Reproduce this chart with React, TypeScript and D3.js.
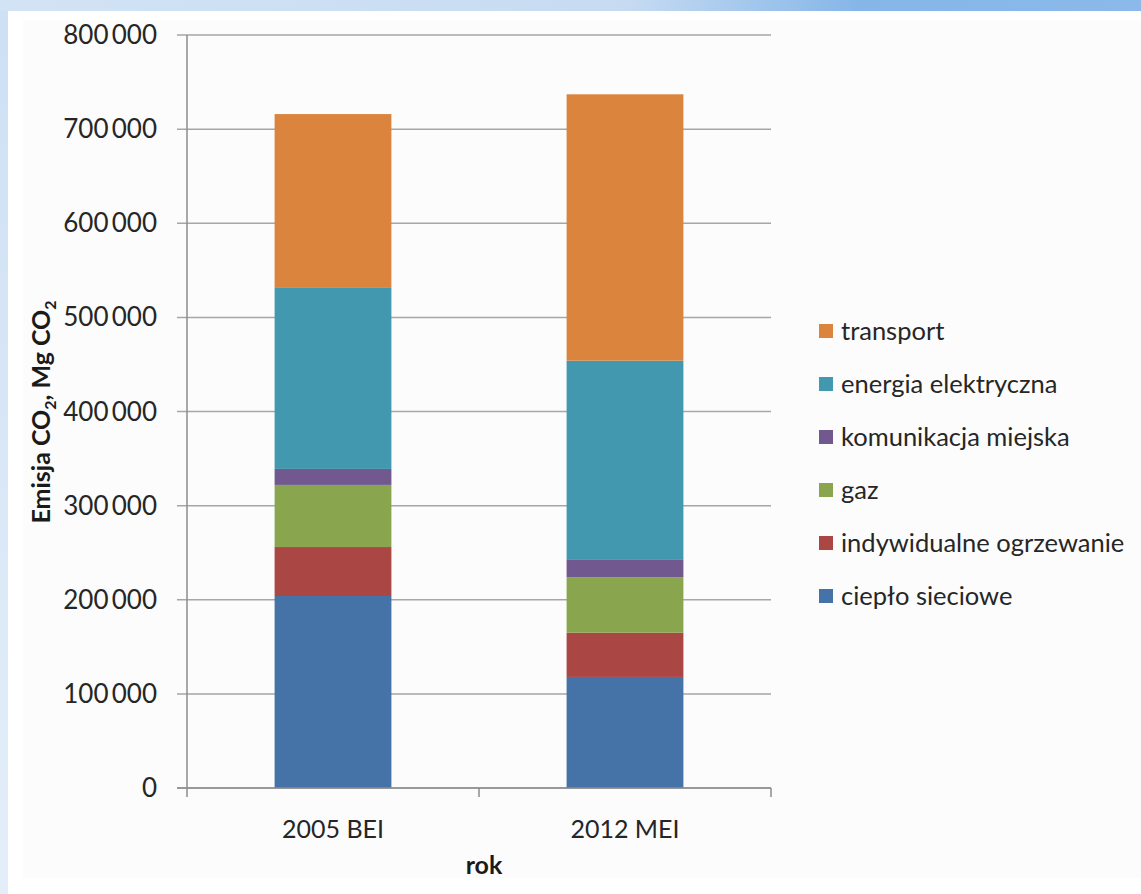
import * as d3 from "d3";
import { useEffect, useRef } from "react";

// kategorie (lata) i serie emisji CO2 [Mg CO2]
const categories = ["2005 BEI", "2012 MEI"];
const seriesNames = [
  "ciepło sieciowe",
  "indywidualne ogrzewanie",
  "gaz",
  "komunikacja miejska",
  "energia elektryczna",
  "transport",
];
const cieploSieciowe = [204000, 118000];
const indywidualneOgrzewanie = [52000, 47000];
const gaz = [66000, 59000];
const komunikacjaMiejska = [17000, 19000];
const energiaElektryczna = [193000, 211000];
const transport = [184000, 283000];
const yTicks = [0, 100000, 200000, 300000, 400000, 500000, 600000, 700000, 800000];
const colors = ["#4572A7", "#AA4643", "#89A54E", "#71588F", "#4198AF", "#DB843D"];

const W = 1141;
const H = 894;
const margin = { left: 187, right: 370, top: 35, bottom: 106 };
const FONT = "Lato, 'Open Sans', sans-serif";

export default function App() {
  const ref = useRef<SVGSVGElement>(null);

  useEffect(() => {
    const svg = d3.select(ref.current);
    svg.selectAll("*").remove();

    // tło slajdu
    const defs = svg.append("defs");
    const grad = defs.append("linearGradient").attr("id", "topbar");
    grad.append("stop").attr("offset", "0%").attr("stop-color", "#d2e3f5");
    grad.append("stop").attr("offset", "55%").attr("stop-color", "#c6dbf2");
    grad.append("stop").attr("offset", "75%").attr("stop-color", "#86b6e8");
    grad.append("stop").attr("offset", "100%").attr("stop-color", "#8ab9ea");
    const gradL = defs.append("linearGradient").attr("id", "leftbar").attr("x1", 0).attr("x2", 0).attr("y1", 0).attr("y2", 1);
    gradL.append("stop").attr("offset", "0%").attr("stop-color", "#cde0f4");
    gradL.append("stop").attr("offset", "100%").attr("stop-color", "#e4eef9");
    svg.append("rect").attr("width", W).attr("height", H).attr("fill", "url(#leftbar)");
    svg.append("rect").attr("width", W).attr("height", 11).attr("fill", "url(#topbar)");
    svg.append("rect").attr("x", 8).attr("y", 11).attr("width", W - 8).attr("height", H - 11).attr("fill", "#ffffff");
    svg.append("rect").attr("x", 23).attr("y", 20).attr("width", W - 23).attr("height", 858).attr("fill", "#fcfcfc");

    const width = W - margin.left - margin.right;
    const height = H - margin.top - margin.bottom;

    const g = svg.append("g").attr("transform", `translate(${margin.left}, ${margin.top})`);

    const y = d3.scaleLinear().domain([0, 800000]).range([height, 0]);
    const x = d3.scaleBand().domain(categories).range([0, width]).paddingInner(0.6).paddingOuter(0.3);

    const fmt = (v: number) => d3.format(",")(v).replace(/,/g, "\u2009");

    // linie siatki
    g.append("g")
      .selectAll("line")
      .data(yTicks)
      .enter()
      .append("line")
      .attr("x1", -10)
      .attr("x2", width)
      .attr("y1", (d) => y(d))
      .attr("y2", (d) => y(d))
      .attr("stroke", "#a6a6a6")
      .attr("stroke-width", 1.5);

    // etykiety osi Y
    g.append("g")
      .selectAll("text")
      .data(yTicks)
      .enter()
      .append("text")
      .attr("x", -30)
      .attr("y", (d) => y(d))
      .attr("dy", "0.35em")
      .attr("text-anchor", "end")
      .attr("font-family", FONT)
      .attr("font-size", 26)
      .attr("fill", "#262626")
      .text((d) => fmt(d));

    // słupki
    const rows = categories.map((c, i) => ({
      key: c,
      s0: cieploSieciowe[i],
      s1: indywidualneOgrzewanie[i],
      s2: gaz[i],
      s3: komunikacjaMiejska[i],
      s4: energiaElektryczna[i],
      s5: transport[i],
    }));
    const stack = d3.stack<any>().keys(["s0", "s1", "s2", "s3", "s4", "s5"]);
    const layers = stack(rows);

    g.selectAll(".layer")
      .data(layers)
      .enter()
      .append("g")
      .attr("fill", (_d, i) => colors[i])
      .selectAll("rect")
      .data((d) => d)
      .enter()
      .append("rect")
      .attr("x", (d: any) => x(d.data.key)!)
      .attr("y", (d) => y(d[1]))
      .attr("width", x.bandwidth())
      .attr("height", (d) => y(d[0]) - y(d[1]));

    // osie
    g.append("line")
      .attr("x1", 0)
      .attr("x2", 0)
      .attr("y1", 0)
      .attr("y2", height + 9)
      .attr("stroke", "#8c8c8c")
      .attr("stroke-width", 1.5);
    g.append("line")
      .attr("x1", -10)
      .attr("x2", width)
      .attr("y1", height)
      .attr("y2", height)
      .attr("stroke", "#8c8c8c")
      .attr("stroke-width", 1.5);
    const step = x.step();
    g.append("g")
      .selectAll("line")
      .data([1, 2])
      .enter()
      .append("line")
      .attr("x1", (d) => x(categories[0])! - x.paddingOuter() * step + d * step)
      .attr("x2", (d) => x(categories[0])! - x.paddingOuter() * step + d * step)
      .attr("y1", height)
      .attr("y2", height + 9)
      .attr("stroke", "#8c8c8c")
      .attr("stroke-width", 1.5);

    g.append("g")
      .selectAll("text")
      .data(categories)
      .enter()
      .append("text")
      .attr("x", (d) => x(d)! + x.bandwidth() / 2)
      .attr("y", height + 50)
      .attr("text-anchor", "middle")
      .attr("font-family", FONT)
      .attr("font-size", 25)
      .attr("fill", "#262626")
      .text((d) => d);

    // tytuły osi
    g.append("text")
      .attr("x", width / 2 + 5)
      .attr("y", height + 86)
      .attr("text-anchor", "middle")
      .attr("font-family", FONT)
      .attr("font-size", 25)
      .attr("font-weight", "bold")
      .attr("fill", "#1a1a1a")
      .text("rok");

    const yt = svg
      .append("text")
      .attr("transform", `translate(50, 412) rotate(-90)`)
      .attr("text-anchor", "middle")
      .attr("font-family", FONT)
      .attr("font-size", 25)
      .attr("font-weight", "bold")
      .attr("fill", "#1a1a1a");
    yt.append("tspan").text("Emisja CO");
    yt.append("tspan").attr("dy", 6).attr("font-size", 16).text("2");
    yt.append("tspan").attr("dy", -6).text(", Mg CO");
    yt.append("tspan").attr("dy", 6).attr("font-size", 16).text("2");

    // legenda
    const legend = svg.append("g").attr("transform", "translate(819, 331)");
    const order = [5, 4, 3, 2, 1, 0];
    const item = legend
      .selectAll("g")
      .data(order)
      .enter()
      .append("g")
      .attr("transform", (_d, i) => `translate(0, ${i * 53})`);
    item
      .append("rect")
      .attr("x", 0)
      .attr("y", -7)
      .attr("width", 14)
      .attr("height", 14)
      .attr("fill", (d) => colors[d]);
    item
      .append("text")
      .attr("x", 22)
      .attr("dy", "0.35em")
      .attr("font-family", FONT)
      .attr("font-size", 25.5)
      .attr("fill", "#262626")
      .text((d) => seriesNames[d]);
  }, []);

  return (
    <div style={{ position: "absolute", left: 0, top: 0 }}>
      <svg ref={ref} width={W} height={H} style={{ display: "block" }} />
    </div>
  );
}
